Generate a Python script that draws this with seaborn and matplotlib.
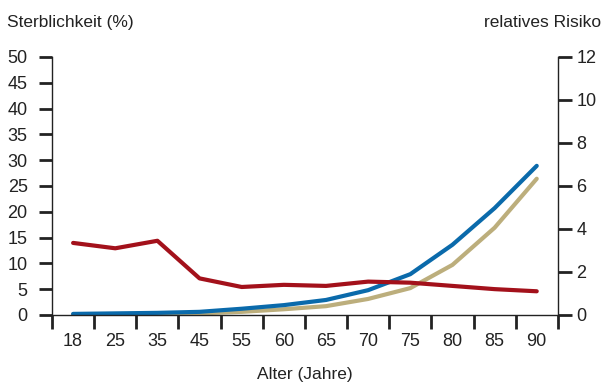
import numpy as np
import pandas as pd
import matplotlib
matplotlib.use("Agg")
import matplotlib.pyplot as plt
import seaborn as sns

ages = ["18", "25", "35", "45", "55", "60", "65", "70", "75", "80", "85", "90"]
blue_vals = [0.2, 0.3, 0.4, 0.6, 1.2, 1.9, 2.9, 4.8, 7.9, 13.6, 20.7, 28.9]
tan_vals = [0.1, 0.1, 0.2, 0.3, 0.6, 1.1, 1.7, 3.1, 5.2, 9.7, 16.9, 26.4]
risk_vals = [3.35, 3.1, 3.45, 1.7, 1.3, 1.4, 1.35, 1.55, 1.5, 1.35, 1.2, 1.1]

left_ticks = [0, 5, 10, 15, 20, 25, 30, 35, 40, 45, 50]
right_ticks = [0, 2, 4, 6, 8, 10, 12]

BLUE = "#0a6aab"
TAN = "#bcae7c"
RED = "#a3111b"

sns.set_style("white")
plt.rcParams["font.family"] = ["Liberation Sans", "DejaVu Sans"]

idx = np.arange(len(ages))
df = pd.DataFrame({"idx": idx, "blue": blue_vals, "tan": tan_vals, "risk": risk_vals})

fig = plt.figure(figsize=(6.05, 3.85), dpi=100)
ax = fig.add_axes([0.086, 0.182, 0.836, 0.670])
ax2 = ax.twinx()

sns.lineplot(data=df, x="idx", y="tan", ax=ax, color=TAN, linewidth=3)
sns.lineplot(data=df, x="idx", y="blue", ax=ax, color=BLUE, linewidth=3)
sns.lineplot(data=df, x="idx", y="risk", ax=ax2, color=RED, linewidth=3)

ax.set_xlim(-0.5, len(ages) - 0.5)
ax.set_ylim(0, 50)
ax2.set_ylim(0, 12)

ax.set_yticks(left_ticks)
ax2.set_yticks(right_ticks)
ax.set_xticks(idx)
ax.set_xticklabels(ages)
ax.set_xticks(np.arange(-0.5, len(ages), 1.0), minor=True)

for a in (ax, ax2):
    for s in a.spines.values():
        s.set_color("#222222")
        s.set_linewidth(1.0)
    a.spines["top"].set_visible(False)
    a.set_xlabel("")
    a.set_ylabel("")

ax.spines["right"].set_visible(False)
ax2.spines["left"].set_visible(False)
ax2.spines["bottom"].set_visible(False)

ink = "#222222"
ax.tick_params(axis="x", which="major", bottom=True, length=0, pad=13, labelsize=13, colors=ink)
ax.tick_params(axis="x", which="minor", bottom=True, length=10, width=2, direction="out", color=ink)
ax.tick_params(axis="y", left=True, right=False, length=9.5, width=2, direction="out", pad=8, labelsize=13, colors=ink)
ax2.tick_params(axis="y", right=True, left=False, length=10, width=2, direction="out", pad=3.5, labelsize=13, colors=ink)

fig.text(0.012, 0.942, "Sterblichkeit (%)", ha="left", va="center", fontsize=12.5, color=ink)
fig.text(0.993, 0.942, "relatives Risiko", ha="right", va="center", fontsize=12.5, color=ink)
fig.text(0.504, 0.026, "Alter (Jahre)", ha="center", va="center", fontsize=12.5, color=ink)

fig.savefig("out.png", dpi=100)
